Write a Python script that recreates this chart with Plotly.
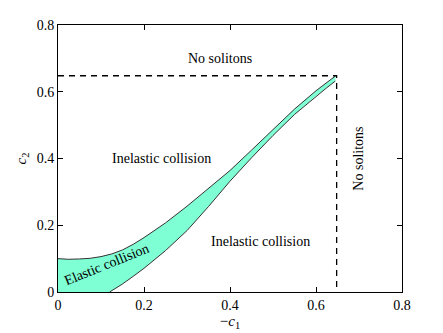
import plotly.graph_objects as go

# Boundaries of the elastic-collision region
upper_x = [0.0, 0.025, 0.05, 0.075, 0.1, 0.125, 0.15, 0.175, 0.2, 0.25, 0.3, 0.35,
           0.4, 0.45, 0.5, 0.55, 0.6, 0.625, 0.645]
upper_y = [0.100, 0.098, 0.099, 0.101, 0.106, 0.114, 0.126, 0.143, 0.163, 0.207, 0.257, 0.310,
           0.364, 0.425, 0.487, 0.548, 0.603, 0.627, 0.647]
lower_x = [0.12, 0.135, 0.15, 0.175, 0.2, 0.25, 0.3, 0.35, 0.4, 0.45, 0.5, 0.55,
           0.6, 0.625, 0.645]
lower_y = [0.0, 0.011, 0.024, 0.047, 0.071, 0.124, 0.184, 0.256, 0.332, 0.402, 0.469, 0.532,
           0.587, 0.612, 0.632]

# Existence limit (dashed)
limit_c1 = 0.648
limit_c2 = 0.648

tick_vals = [0, 0.2, 0.4, 0.6, 0.8]
tick_text = ['0', '0.2', '0.4', '0.6', '0.8']

FONT = 'Liberation Serif'

fig = go.Figure()

# Filled band: upper curve, then lower curve back, closed along the axis
poly_x = upper_x + lower_x[::-1] + [0.0]
poly_y = upper_y + lower_y[::-1] + [0.0]
fig.add_trace(go.Scatter(x=poly_x, y=poly_y, fill='toself', mode='none',
                         fillcolor='#7FFFD4', hoverinfo='skip'))
fig.add_trace(go.Scatter(x=upper_x, y=upper_y, mode='lines',
                         line=dict(color='#333333', width=1)))
fig.add_trace(go.Scatter(x=lower_x, y=lower_y, mode='lines',
                         line=dict(color='#333333', width=1)))

# Dashed limits
fig.add_trace(go.Scatter(x=[0, limit_c1, limit_c1], y=[limit_c2, limit_c2, 0], mode='lines',
                         line=dict(color='black', width=1.3, dash='6px,5px')))

labels = [
    dict(x=0.377, y=0.70, text='No solitons', textangle=0),
    dict(x=0.241, y=0.40, text='Inelastic collision', textangle=0),
    dict(x=0.471, y=0.151, text='Inelastic collision', textangle=0),
    dict(x=0.113, y=0.081, text='Elastic collision', textangle=-22),
    dict(x=0.698, y=0.40, text='No solitons', textangle=-90),
]
for lab in labels:
    fig.add_annotation(x=lab['x'], y=lab['y'], text=lab['text'], textangle=lab['textangle'],
                       showarrow=False, font=dict(family=FONT, size=14, color='black'))

axis_style = dict(range=[0, 0.8], tickvals=tick_vals, ticktext=tick_text, automargin=False,
                  showline=True, linecolor='black', linewidth=1, mirror='ticks',
                  ticks='inside', ticklen=5, tickcolor='black', showgrid=False,
                  zeroline=False, tickfont=dict(family=FONT, size=14, color='black'))

fig.update_layout(
    width=443, height=333,
    margin=dict(l=58, r=41, t=25, b=41),
    paper_bgcolor='white', plot_bgcolor='white',
    showlegend=False,
    xaxis=dict(axis_style, title=dict(text='−<i>c</i><sub>1</sub>', standoff=0,
                                      font=dict(family=FONT, size=15, color='black'))),
    yaxis=dict(axis_style, title=dict(text='<i>c</i><sub>2</sub>', standoff=6,
                                      font=dict(family=FONT, size=15, color='black'))),
)

# drop the page's default body margin so the figure sits at the window's corner
fig.write_html('out.html', config={'displayModeBar': False},
               post_script="document.body.style.margin='0';")
